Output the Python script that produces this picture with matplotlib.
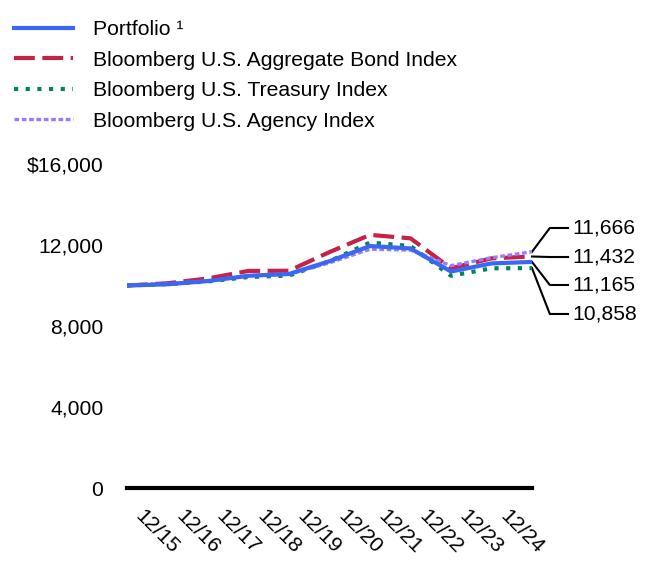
import matplotlib
matplotlib.use("Agg")
import matplotlib.pyplot as plt
from matplotlib.transforms import ScaledTranslation

# --- datos (valor de $10,000 invertidos) ---
periods = list(range(11))
tick_labels = ["12/15", "12/16", "12/17", "12/18", "12/19",
               "12/20", "12/21", "12/22", "12/23", "12/24"]
portfolio = [10000, 10060, 10220, 10480, 10570, 11200, 11950, 11830, 10690, 11090, 11165]
aggregate = [10000, 10110, 10350, 10720, 10730, 11650, 12500, 12330, 10850, 11340, 11432]
treasury = [10000, 10070, 10200, 10420, 10490, 11200, 12120, 11950, 10480, 10850, 10858]
agency = [10000, 10080, 10230, 10480, 10560, 11120, 11790, 11750, 10980, 11370, 11666]
y_ticks = [0, 4000, 8000, 12000, 16000]

plt.rcParams['font.family'] = ['Liberation Sans', 'DejaVu Sans']
FS = 15.2

fig = plt.figure(figsize=(6.6, 5.88), dpi=100)
ax = fig.add_axes([127 / 660, 100 / 588, 405 / 660, 324 / 588])

ax.plot(periods, aggregate, color="#c42345", lw=3, dashes=(5, 1.8),
        label="Bloomberg U.S. Aggregate Bond Index", zorder=2)
ax.plot(periods, treasury, color="#00845c", lw=3, dashes=(1, 1.8),
        label="Bloomberg U.S. Treasury Index", zorder=3)
ax.plot(periods, agency, color="#9a7cf6", lw=2.4, dashes=(1.4, 0.8),
        label="Bloomberg U.S. Agency Index", zorder=4)
ax.plot(periods, portfolio, color="#3a68f5", lw=3,
        label="Portfolio \u00b9", zorder=5)

ax.set_xlim(0, 10)
ax.set_ylim(0, 16000)
ax.set_yticks(y_ticks)
ax.set_yticklabels(["$16,000" if v == 16000 else f"{v:,}" for v in y_ticks])
ax.set_xticks(range(len(tick_labels)))
ax.set_xticklabels(tick_labels, rotation=-45, ha="left")
ax.tick_params(axis="y", length=0, pad=17, labelsize=FS)
ax.tick_params(axis="x", length=0, pad=13, labelsize=FS)
shift = ScaledTranslation(5 / 100, 0, fig.dpi_scale_trans)
for lbl in ax.get_xticklabels():
    lbl.set_transform(lbl.get_transform() + shift)

for s in ["top", "right", "left"]:
    ax.spines[s].set_visible(False)
ax.spines["bottom"].set_linewidth(3)
ax.spines["bottom"].set_color("black")

# --- etiquetas de valor final con líneas guía ---
end_vals = [agency[-1], aggregate[-1], portfolio[-1], treasury[-1]]
label_y = [12840, 11407, 10025, 8593]
for v, ly in zip(end_vals, label_y):
    ax.plot([10, 10.44, 10.89], [v, ly, ly], color="black", lw=1.5,
            clip_on=False, zorder=1)
    ax.text(11.0, ly, f"{v:,}", fontsize=FS, va="center", ha="left")

# leyenda arriba a la izquierda
handles, labels = ax.get_legend_handles_labels()
order = [3, 0, 1, 2]
fig.legend([handles[i] for i in order], [labels[i] for i in order],
           loc="upper left", bbox_to_anchor=(14 / 660, 1 - 20 / 588),
           frameon=False, fontsize=FS, handlelength=2.8, handletextpad=0.93,
           labelspacing=0.55, borderpad=0, borderaxespad=0)

fig.savefig("out.png", dpi=100)
